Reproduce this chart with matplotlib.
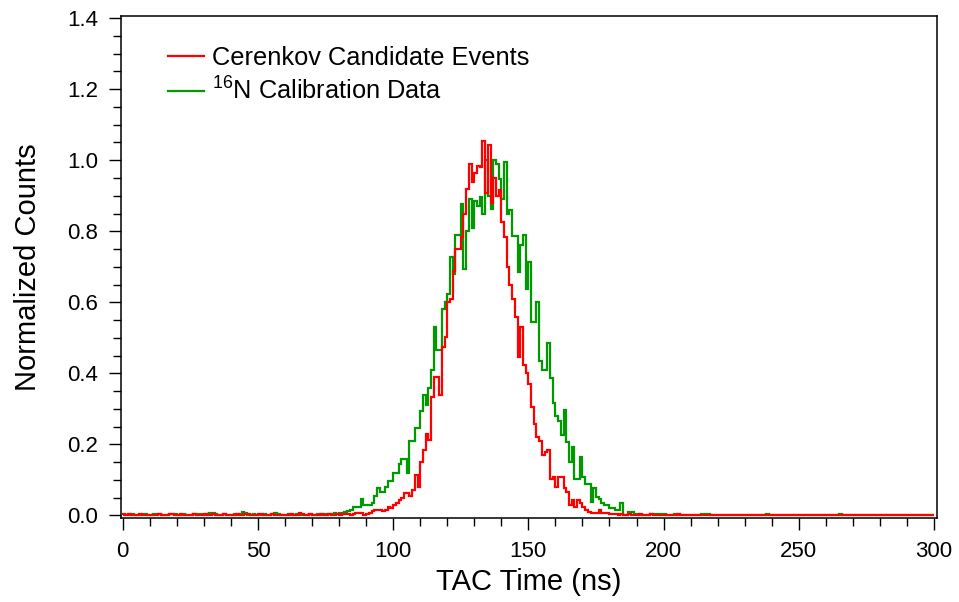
import matplotlib
matplotlib.use("Agg")
import matplotlib.pyplot as plt
from matplotlib.ticker import MultipleLocator
import numpy as np

# TAC time histograms, 1 ns bins from 0 to 300 ns
bin_edges = np.arange(0, 301, 1)

cerenkov = [
    0.004, 0.002, 0.003, 0.0, 0.002, 0.0, 0.003, 0.0, 0.002, 0.0,
    0.0, 0.002, 0.0, 0.003, 0.0, 0.0, 0.002, 0.004, 0.005, 0.002,
    0.0, 0.003, 0.0, 0.002, 0.0, 0.0, 0.003, 0.0, 0.002, 0.0,
    0.003, 0.0, 0.0, 0.004, 0.002, 0.0, 0.0, 0.003, 0.0, 0.002,
    0.0, 0.0, 0.003, 0.0, 0.002, 0.005, 0.003, 0.0, 0.002, 0.0,
    0.005, 0.003, 0.0, 0.002, 0.0, 0.003, 0.0, 0.0, 0.002, 0.0,
    0.002, 0.0, 0.003, 0.0, 0.002, 0.007, 0.004, 0.002, 0.0, 0.003,
    0.0, 0.002, 0.0, 0.003, 0.002, 0.0, 0.004, 0.002, 0.0, 0.003,
    0.002, 0.005, 0.003, 0.004, 0.002, 0.003, 0.006, 0.006, 0.006, 0.002,
    0.003, 0.008, 0.012, 0.015, 0.015, 0.015, 0.012, 0.015, 0.024, 0.020,
    0.030, 0.034, 0.043, 0.050, 0.062, 0.064, 0.055, 0.071, 0.113, 0.080,
    0.151, 0.184, 0.230, 0.212, 0.334, 0.390, 0.390, 0.339, 0.474, 0.503,
    0.602, 0.610, 0.687, 0.750, 0.750, 0.785, 0.850, 0.920, 0.990, 0.940,
    0.963, 0.985, 0.980, 1.053, 0.907, 1.043, 0.880, 0.950, 0.898, 0.917,
    0.826, 0.785, 0.700, 0.650, 0.610, 0.560, 0.447, 0.530, 0.423, 0.400,
    0.370, 0.305, 0.258, 0.220, 0.210, 0.170, 0.180, 0.185, 0.104, 0.107,
    0.080, 0.109, 0.107, 0.076, 0.066, 0.029, 0.043, 0.024, 0.043, 0.034,
    0.024, 0.015, 0.010, 0.006, 0.006, 0.006, 0.015, 0.008, 0.008, 0.008,
    0.003, 0.003, 0.005, 0.002, 0.004, 0.002, 0.0, 0.003, 0.0, 0.002,
    0.0, 0.004, 0.0, 0.002, 0.0, 0.003, 0.0, 0.002, 0.0, 0.0,
    0.002, 0.0, 0.0, 0.002, 0.0, 0.003, 0.0, 0.0, 0.002, 0.0,
    0.0, 0.0, 0.002, 0.0, 0.0, 0.0, 0.0, 0.002, 0.0, 0.0,
    0.0, 0.0, 0.0, 0.0, 0.002, 0.0, 0.0, 0.0, 0.0, 0.0,
    0.0, 0.0, 0.0, 0.0, 0.0, 0.0, 0.002, 0.0, 0.0, 0.0,
    0.0, 0.0, 0.0, 0.0, 0.0, 0.0, 0.0, 0.0, 0.0, 0.0,
    0.0, 0.0, 0.0, 0.0, 0.0, 0.0, 0.0, 0.0, 0.0, 0.0,
    0.0, 0.0, 0.0, 0.0, 0.0, 0.0, 0.0, 0.0, 0.0, 0.0,
    0.0, 0.0, 0.0, 0.0, 0.0, 0.0, 0.0, 0.0, 0.0, 0.0,
    0.0, 0.0, 0.0, 0.0, 0.0, 0.0, 0.0, 0.0, 0.0, 0.0,
    0.0, 0.0, 0.0, 0.0, 0.0, 0.0, 0.0, 0.0, 0.0, 0.0,
]

n16_calib = [
    0.0, 0.002, 0.0, 0.003, 0.0, 0.002, 0.0, 0.005, 0.004, 0.0,
    0.002, 0.004, 0.005, 0.003, 0.0, 0.002, 0.0, 0.003, 0.005, 0.004,
    0.0, 0.002, 0.003, 0.0, 0.002, 0.0, 0.003, 0.0, 0.005, 0.005,
    0.002, 0.003, 0.006, 0.006, 0.005, 0.002, 0.0, 0.003, 0.0, 0.002,
    0.0, 0.003, 0.0, 0.004, 0.010, 0.008, 0.002, 0.0, 0.003, 0.0,
    0.002, 0.0, 0.003, 0.002, 0.0, 0.004, 0.006, 0.005, 0.0, 0.002,
    0.0, 0.003, 0.002, 0.0, 0.004, 0.003, 0.0, 0.002, 0.0, 0.003,
    0.002, 0.0, 0.003, 0.002, 0.004, 0.0, 0.003, 0.005, 0.006, 0.004,
    0.006, 0.003, 0.010, 0.012, 0.015, 0.025, 0.025, 0.025, 0.045, 0.030,
    0.030, 0.030, 0.035, 0.056, 0.076, 0.067, 0.067, 0.080, 0.096, 0.096,
    0.120, 0.120, 0.146, 0.160, 0.160, 0.120, 0.210, 0.210, 0.245, 0.245,
    0.295, 0.340, 0.310, 0.360, 0.410, 0.530, 0.465, 0.465, 0.580, 0.600,
    0.624, 0.727, 0.680, 0.790, 0.790, 0.877, 0.694, 0.800, 0.890, 0.810,
    0.886, 0.870, 0.896, 0.850, 1.000, 0.900, 0.863, 1.000, 0.990, 0.947,
    0.890, 0.994, 0.850, 0.860, 0.788, 0.788, 0.685, 0.760, 0.790, 0.638,
    0.713, 0.545, 0.545, 0.600, 0.435, 0.410, 0.410, 0.485, 0.387, 0.316,
    0.280, 0.266, 0.226, 0.297, 0.207, 0.151, 0.193, 0.104, 0.104, 0.165,
    0.109, 0.090, 0.090, 0.038, 0.076, 0.052, 0.046, 0.034, 0.030, 0.030,
    0.020, 0.020, 0.015, 0.015, 0.034, 0.0, 0.0, 0.010, 0.010, 0.005,
    0.005, 0.0, 0.002, 0.0, 0.0, 0.003, 0.005, 0.005, 0.005, 0.004,
    0.005, 0.0, 0.002, 0.0, 0.005, 0.0, 0.0, 0.002, 0.0, 0.0,
    0.0, 0.0, 0.0, 0.0, 0.005, 0.005, 0.004, 0.0, 0.0, 0.0,
    0.0, 0.0, 0.0, 0.0, 0.0, 0.0, 0.0, 0.0, 0.0, 0.0,
    0.0, 0.0, 0.0, 0.0, 0.0, 0.0, 0.0, 0.0, 0.005, 0.0,
    0.0, 0.0, 0.0, 0.0, 0.0, 0.0, 0.0, 0.0, 0.0, 0.0,
    0.0, 0.0, 0.0, 0.0, 0.0, 0.0, 0.0, 0.0, 0.0, 0.0,
    0.0, 0.0, 0.0, 0.0, 0.0, 0.005, 0.0, 0.0, 0.0, 0.0,
    0.0, 0.0, 0.0, 0.0, 0.0, 0.0, 0.0, 0.0, 0.0, 0.0,
    0.0, 0.0, 0.0, 0.0, 0.0, 0.0, 0.0, 0.0, 0.0, 0.0,
    0.0, 0.0, 0.0, 0.0, 0.0, 0.0, 0.0, 0.0, 0.0, 0.0,
]

plt.rcParams.update({
    "font.family": ["Liberation Sans", "DejaVu Sans"],
    "mathtext.fontset": "custom",
    "mathtext.rm": "Liberation Sans",
    "mathtext.it": "Liberation Sans:italic",
})

fig = plt.figure(figsize=(9.59, 6.02), dpi=100)
ax = fig.add_axes([0.1259, 0.139, 0.8511, 0.835])

green = ax.stairs(n16_calib, bin_edges, color="#009a00", linewidth=1.6,
                  label=r"$^{16}$N Calibration Data")
red = ax.stairs(cerenkov, bin_edges, color="#ff0000", linewidth=1.6,
                label="Cerenkov Candidate Events")

ax.set_xlim(-0.75, 301.1)
ax.set_ylim(-0.008, 1.407)

ax.xaxis.set_major_locator(MultipleLocator(50))
ax.xaxis.set_minor_locator(MultipleLocator(10))
ax.yaxis.set_major_locator(MultipleLocator(0.2))
ax.yaxis.set_minor_locator(MultipleLocator(0.05))
ax.yaxis.set_major_formatter(plt.FuncFormatter(lambda v, p: f"{v:.1f}"))

ax.tick_params(which="both", direction="out", width=1.0, labelsize=16,
               top=False, right=False)
ax.tick_params(which="major", length=8.5)
ax.tick_params(which="minor", length=5.5)
ax.tick_params(axis="x", which="major", pad=8)
ax.tick_params(axis="y", which="major", pad=8)
for spine in ax.spines.values():
    spine.set_linewidth(1.1)

ax.set_xlabel("TAC Time (ns)", fontsize=21, labelpad=4)
ax.set_ylabel("Normalized Counts", fontsize=21, labelpad=18)

ax.legend(handles=[red, green], loc="upper left",
          bbox_to_anchor=(0.058, 0.94), frameon=False, fontsize=18.3,
          handlelength=1.42, handletextpad=0.3, labelspacing=0.3,
          borderpad=0, borderaxespad=0)

fig.savefig("out.png", dpi=100)
